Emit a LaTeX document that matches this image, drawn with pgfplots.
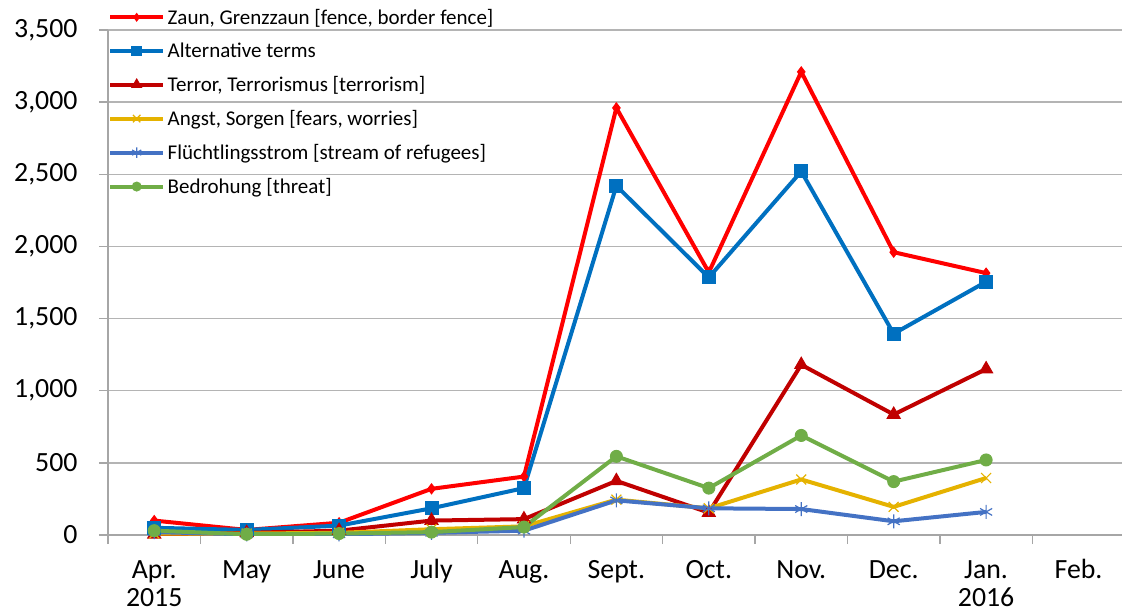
\documentclass[border=0pt]{standalone}
\usepackage{pgfplots}
\pgfplotsset{compat=1.18}
\usepackage{fontspec}
\setmainfont{Carlito}
\definecolor{czaun}{HTML}{FF0000}
\definecolor{calt}{HTML}{0070C0}
\definecolor{cterror}{HTML}{C00000}
\definecolor{cangst}{HTML}{E5B200}
\definecolor{cflucht}{HTML}{4472C4}
\definecolor{cbedr}{HTML}{70AD47}
\definecolor{axgray}{HTML}{A6A6A6}
\definecolor{gridgray}{HTML}{B4B4B4}
\begin{document}
\begin{tikzpicture}
\path[use as bounding box] (-108bp,-80bp) rectangle (1014bp,535bp);
\begin{axis}[
  at={(0,0)}, anchor=south west,
  scale only axis, width=1014bp, height=505bp,
  xmin=-0.5, xmax=10.47, ymin=0, ymax=3500,
  axis x line*=bottom, axis y line*=left,
  axis line style={draw=axgray, line width=1.3bp},
  ymajorgrids, grid style={draw=gridgray, line width=1.3bp},
  ytick={0,500,...,3500},
  yticklabels={0,500,{1,000},{1,500},{2,000},{2,500},{3,000},{3,500}},
  xtick={-0.5,0.5,...,9.5},
  xticklabels={{\strut Apr.\\2015},\strut May,\strut June,\strut July,\strut Aug.,\strut Sept.,\strut Oct.,\strut Nov.,\strut Dec.,{\strut Jan.\\2016},\strut Feb.},
  tick align=outside, major tick length=9bp,
  tick style={draw=axgray, line width=1.3bp},
  ticklabel style={font=\fontsize{27.8bp}{28bp}\selectfont, text=black},
  xticklabel style={align=center, anchor=north, inner sep=0pt, xshift=46.2bp, yshift=-14.8bp},
  yticklabel style={xshift=-18bp},
  legend style={at={(0,1.047)}, anchor=north west, draw=none, fill=none,
    font=\fontsize{21bp}{24bp}\selectfont, row sep=12.3bp, inner sep=0pt,
    nodes={inner sep=2.5bp}},
  legend cell align=left,
  legend image code/.code={\draw[mark repeat=2,mark phase=2,#1,every mark/.append style={scale=0.75}] plot coordinates {(0bp,0bp) (26.5bp,0bp) (53bp,0bp)};},
  every axis plot/.append style={line width=4bp},
]
\addplot[color=czaun, mark=diamond*, mark size=5bp, mark options={solid, line width=1bp}] coordinates {
(0,100) (1,35) (2,85) (3,320) (4,405) (5,2960) (6,1820) (7,3210) (8,1960) (9,1815)};
\addlegendentry{Zaun, Grenzzaun [fence, border fence]}
\addplot[color=calt, mark=square*, mark size=6.5bp, mark options={solid, line width=1bp}] coordinates {
(0,50) (1,35) (2,65) (3,185) (4,325) (5,2420) (6,1785) (7,2520) (8,1395) (9,1755)};
\addlegendentry{Alternative terms}
\addplot[color=cterror, mark=triangle*, mark size=7.5bp, mark options={solid, line width=1bp}] coordinates {
(0,5) (1,15) (2,30) (3,100) (4,110) (5,375) (6,155) (7,1180) (8,835) (9,1150)};
\addlegendentry{Terror, Terrorismus [terrorism]}
\addplot[color=cangst, mark=x, mark size=7bp, mark options={solid, line width=1.2bp}] coordinates {
(0,10) (1,10) (2,15) (3,40) (4,60) (5,245) (6,185) (7,385) (8,195) (9,395)};
\addlegendentry{Angst, Sorgen [fears, worries]}
\addplot[color=cflucht, mark=asterisk, mark size=7bp, mark options={solid, line width=1.2bp}] coordinates {
(0,20) (1,5) (2,5) (3,15) (4,30) (5,240) (6,185) (7,180) (8,95) (9,160)};
\addlegendentry{Flüchtlingsstrom [stream of refugees]}
\addplot[color=cbedr, mark=*, mark size=6bp, mark options={solid, line width=1bp}] coordinates {
(0,30) (1,5) (2,10) (3,20) (4,55) (5,545) (6,325) (7,690) (8,370) (9,520)};
\addlegendentry{Bedrohung [threat]}
\end{axis}
\end{tikzpicture}
\end{document}
